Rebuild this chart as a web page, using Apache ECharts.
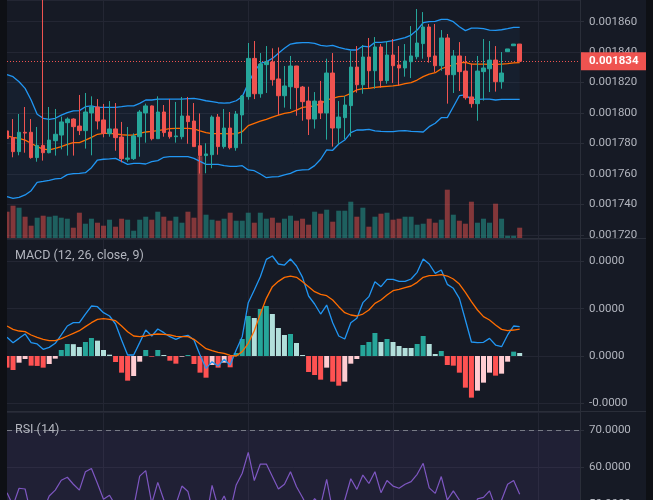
<!DOCTYPE html>
<html><head><meta charset="utf-8">
<script src="https://cdn.jsdelivr.net/npm/echarts@6/dist/echarts.min.js"></script>
<style>html,body{margin:0;padding:0;background:#161a25;}#c{width:653px;height:500px;}</style>
</head><body><div id="c"></div>
<script>
// ---------- data ----------
const categories = Array.from({length: 96}, (_, i) => 'b' + i);
const timeTicks = [16, 40, 64, 88];

const opens = [1788.3e-6,1783.9e-6,1774.7e-6,1787.4e-6,1787.4e-6,1770.8e-6,1778.8e-6,1774.0e-6,1781.9e-6,1785.6e-6,
1793.7e-6,1796.1e-6,1791.5e-6,1788.5e-6,1800.1e-6,1804.0e-6,1795.5e-6,1786.5e-6,1789.6e-6,1784.3e-6,
1769.7e-6,1770.1e-6,1784.5e-6,1800.1e-6,1804.7e-6,1783.2e-6,1800.7e-6,1787.6e-6,1784.5e-6,1784.5e-6,
1798.1e-6,1794.8e-6,1778.6e-6,1772.1e-6,1772.7e-6,1797.4e-6,1778.0e-6,1790.2e-6,1777.3e-6,1798.8e-6,
1810.8e-6,1835.9e-6,1812.7e-6,1831.8e-6,1833.5e-6,1822.4e-6,1811.4e-6,1817.3e-6,1830.9e-6,1817.1e-6,
1807.9e-6,1796.1e-6,1807.9e-6,1800.1e-6,1826.3e-6,1790.2e-6,1797.0e-6,1804.9e-6,1830.2e-6,1818.6e-6,
1836.8e-6,1827.8e-6,1843.4e-6,1821.3e-6,1838.1e-6,1831.6e-6,1829.6e-6,1833.7e-6,1837.0e-6,1845.6e-6,
1856.5e-6,1837.5e-6,1831.1e-6,1849.3e-6,1825.2e-6,1837.5e-6,1827.6e-6,1810.6e-6,1806.2e-6,1827.2e-6,
1829.1e-6,1834.8e-6,1820.6e-6,1840.3e-6,1844.2e-6,1845.3e-6];
const closes = [1783.4e-6,1774.7e-6,1787.4e-6,1786.9e-6,1770.8e-6,1778.8e-6,1774.0e-6,1782.3e-6,1786.1e-6,1794.2e-6,
1796.1e-6,1791.1e-6,1788.5e-6,1800.7e-6,1804.0e-6,1794.8e-6,1786.7e-6,1789.6e-6,1783.9e-6,1770.1e-6,
1770.5e-6,1785.0e-6,1800.7e-6,1804.7e-6,1783.2e-6,1800.7e-6,1787.2e-6,1784.5e-6,1785.0e-6,1798.1e-6,
1794.4e-6,1778.0e-6,1772.1e-6,1773.2e-6,1797.4e-6,1778.0e-6,1790.2e-6,1777.3e-6,1799.4e-6,1811.2e-6,
1835.9e-6,1812.7e-6,1832.2e-6,1833.5e-6,1821.9e-6,1811.4e-6,1817.8e-6,1830.9e-6,1816.7e-6,1807.5e-6,
1796.1e-6,1807.9e-6,1800.1e-6,1826.3e-6,1790.2e-6,1797.4e-6,1805.3e-6,1830.2e-6,1818.6e-6,1836.8e-6,
1827.8e-6,1843.4e-6,1821.3e-6,1838.1e-6,1831.1e-6,1829.6e-6,1834.2e-6,1837.5e-6,1846.0e-6,1856.5e-6,
1837.0e-6,1831.1e-6,1849.3e-6,1825.2e-6,1837.5e-6,1827.2e-6,1810.1e-6,1806.2e-6,1827.6e-6,1829.6e-6,
1834.8e-6,1820.6e-6,1826.3e-6,1842.1e-6,1845.3e-6,1834.0e-6];
const lows = [1768.1e-6,1771.0e-6,1772.3e-6,1774.0e-6,1770.1e-6,1768.1e-6,1768.8e-6,1773.6e-6,1772.1e-6,1776.2e-6,
1772.1e-6,1772.1e-6,1785.6e-6,1776.7e-6,1772.3e-6,1789.3e-6,1784.1e-6,1784.5e-6,1775.3e-6,1767.7e-6,
1768.1e-6,1769.2e-6,1771.4e-6,1780.6e-6,1782.1e-6,1783.0e-6,1784.5e-6,1783.2e-6,1780.6e-6,1782.8e-6,
1779.9e-6,1777.8e-6,1760.3e-6,1760.5e-6,1763.8e-6,1772.7e-6,1776.7e-6,1776.2e-6,1775.3e-6,1779.9e-6,
1808.8e-6,1809.2e-6,1810.1e-6,1813.2e-6,1818.0e-6,1798.8e-6,1803.6e-6,1802.7e-6,1798.3e-6,1795.0e-6,
1785.6e-6,1789.8e-6,1796.1e-6,1782.6e-6,1778.0e-6,1779.3e-6,1783.0e-6,1784.5e-6,1813.4e-6,1812.7e-6,
1816.5e-6,1816.0e-6,1816.7e-6,1819.3e-6,1819.7e-6,1818.0e-6,1823.9e-6,1823.0e-6,1835.3e-6,1835.7e-6,
1833.1e-6,1827.0e-6,1827.8e-6,1806.2e-6,1813.2e-6,1814.5e-6,1808.8e-6,1803.6e-6,1795.0e-6,1808.2e-6,
1813.8e-6,1814.1e-6,1816.0e-6,1840.3e-6,1844.2e-6,1834.0e-6];
const highs = [1795.5e-6,1796.1e-6,1799.4e-6,1804.0e-6,1796.1e-6,1790.9e-6,1880.0e-6,1804.0e-6,1802.7e-6,1797.7e-6,
1797.2e-6,1796.6e-6,1811.9e-6,1813.2e-6,1811.0e-6,1809.2e-6,1806.0e-6,1807.9e-6,1806.6e-6,1794.2e-6,
1790.9e-6,1786.7e-6,1802.0e-6,1806.2e-6,1805.0e-6,1811.0e-6,1805.3e-6,1809.2e-6,1807.3e-6,1810.6e-6,
1810.6e-6,1806.6e-6,1799.8e-6,1780.2e-6,1798.5e-6,1799.4e-6,1802.7e-6,1800.7e-6,1801.4e-6,1811.9e-6,
1846.0e-6,1847.3e-6,1839.4e-6,1844.0e-6,1842.5e-6,1843.1e-6,1830.9e-6,1837.5e-6,1831.0e-6,1817.8e-6,
1817.3e-6,1813.8e-6,1821.1e-6,1835.7e-6,1839.4e-6,1807.9e-6,1811.2e-6,1840.7e-6,1844.0e-6,1844.7e-6,
1849.3e-6,1849.9e-6,1845.3e-6,1847.3e-6,1848.6e-6,1844.0e-6,1845.3e-6,1857.1e-6,1868.3e-6,1866.3e-6,
1858.5e-6,1858.5e-6,1854.5e-6,1851.9e-6,1841.4e-6,1846.6e-6,1837.5e-6,1832.4e-6,1837.5e-6,1848.6e-6,
1847.3e-6,1844.0e-6,1840.1e-6,1842.1e-6,1845.3e-6,1845.3e-6];
const volumes = [263,323,303,213,123,203,223,213,223,203,193,103,253,143,193,153,123,183,113,193,
183,73,183,213,183,263,213,173,213,153,263,203,817,233,183,173,193,253,173,173,
253,153,253,193,203,153,193,223,173,193,133,263,243,283,163,273,273,363,213,303,
113,213,243,253,183,193,213,213,133,143,193,153,183,483,233,173,143,363,153,193,
153,343,193,23,23,103];
const bbUpper = [1825.2e-6,1823.9e-6,1820.6e-6,1816.2e-6,1808.6e-6,1799.2e-6,1796.6e-6,1795.9e-6,1796.6e-6,1798.7e-6,
1800.3e-6,1801.4e-6,1801.6e-6,1804.2e-6,1804.7e-6,1803.8e-6,1803.8e-6,1803.8e-6,1803.8e-6,1804.2e-6,
1804.7e-6,1804.7e-6,1806.4e-6,1808.6e-6,1808.6e-6,1809.2e-6,1809.2e-6,1809.2e-6,1809.2e-6,1809.2e-6,
1809.5e-6,1809.7e-6,1809.0e-6,1808.1e-6,1807.5e-6,1806.8e-6,1806.6e-6,1806.8e-6,1808.1e-6,1810.8e-6,
1819.5e-6,1827.2e-6,1832.6e-6,1833.7e-6,1835.9e-6,1839.2e-6,1842.5e-6,1845.3e-6,1846.0e-6,1846.2e-6,
1846.2e-6,1845.8e-6,1844.5e-6,1844.0e-6,1844.5e-6,1843.1e-6,1842.1e-6,1841.4e-6,1841.4e-6,1844.0e-6,
1843.4e-6,1846.4e-6,1846.4e-6,1846.9e-6,1847.5e-6,1848.6e-6,1849.5e-6,1851.2e-6,1854.5e-6,1859.3e-6,
1860.0e-6,1860.2e-6,1861.5e-6,1861.5e-6,1860.0e-6,1856.7e-6,1854.1e-6,1855.8e-6,1855.8e-6,1855.4e-6,
1854.5e-6,1854.3e-6,1854.7e-6,1855.4e-6,1856.3e-6,1856.3e-6];
const bbBasis = [1785.0e-6,1784.1e-6,1783.4e-6,1782.3e-6,1780.2e-6,1778.0e-6,1776.4e-6,1775.8e-6,1776.9e-6,1778.0e-6,
1779.5e-6,1780.6e-6,1780.6e-6,1782.3e-6,1784.1e-6,1786.1e-6,1786.7e-6,1786.7e-6,1786.3e-6,1785.8e-6,
1785.6e-6,1785.6e-6,1786.7e-6,1787.6e-6,1788.0e-6,1788.5e-6,1789.1e-6,1789.8e-6,1790.0e-6,1790.0e-6,
1790.0e-6,1789.6e-6,1788.3e-6,1787.2e-6,1786.5e-6,1786.5e-6,1786.5e-6,1786.3e-6,1786.3e-6,1787.8e-6,
1791.8e-6,1793.3e-6,1794.8e-6,1795.9e-6,1797.4e-6,1798.7e-6,1799.8e-6,1800.5e-6,1802.0e-6,1803.8e-6,
1804.2e-6,1804.7e-6,1806.2e-6,1808.6e-6,1809.7e-6,1810.8e-6,1811.2e-6,1813.0e-6,1815.2e-6,1816.0e-6,
1816.2e-6,1816.9e-6,1817.3e-6,1817.6e-6,1817.8e-6,1818.4e-6,1819.3e-6,1820.0e-6,1821.7e-6,1823.9e-6,
1825.6e-6,1826.5e-6,1829.1e-6,1830.5e-6,1831.6e-6,1833.1e-6,1833.3e-6,1832.2e-6,1832.2e-6,1832.2e-6,
1832.0e-6,1832.0e-6,1832.2e-6,1832.4e-6,1832.9e-6,1833.1e-6];
const bbLower = [1745.2e-6,1744.1e-6,1744.7e-6,1746.3e-6,1749.1e-6,1754.6e-6,1755.2e-6,1755.9e-6,1756.8e-6,1757.2e-6,
1759.6e-6,1760.3e-6,1760.5e-6,1760.9e-6,1764.2e-6,1769.2e-6,1769.7e-6,1769.9e-6,1770.3e-6,1768.3e-6,
1766.4e-6,1767.0e-6,1767.0e-6,1766.6e-6,1768.1e-6,1768.8e-6,1771.0e-6,1771.4e-6,1771.4e-6,1771.4e-6,
1771.4e-6,1770.3e-6,1768.3e-6,1766.4e-6,1766.4e-6,1766.4e-6,1765.5e-6,1765.1e-6,1765.1e-6,1765.5e-6,
1762.7e-6,1762.2e-6,1760.0e-6,1757.6e-6,1758.1e-6,1758.3e-6,1759.4e-6,1760.5e-6,1762.2e-6,1762.7e-6,
1762.9e-6,1765.5e-6,1769.7e-6,1775.8e-6,1775.6e-6,1779.7e-6,1782.3e-6,1787.2e-6,1788.9e-6,1788.9e-6,
1789.3e-6,1788.3e-6,1788.0e-6,1787.8e-6,1787.8e-6,1788.3e-6,1788.5e-6,1788.0e-6,1787.8e-6,1787.6e-6,
1791.1e-6,1793.3e-6,1797.0e-6,1797.0e-6,1804.2e-6,1811.4e-6,1811.9e-6,1809.0e-6,1809.0e-6,1809.2e-6,
1809.2e-6,1808.6e-6,1809.0e-6,1809.0e-6,1809.0e-6,1809.0e-6];
const macdLine = [3.94e-6,2.82e-6,3.73e-6,4.65e-6,2.82e-6,2.54e-6,1.41e-6,1.83e-6,2.68e-6,4.44e-6,
6.34e-6,7.04e-6,7.04e-6,8.87e-6,10.56e-6,10.42e-6,9.15e-6,8.45e-6,6.76e-6,3.38e-6,
0.21e-6,0.21e-6,2.82e-6,5.49e-6,4.23e-6,5.70e-6,4.93e-6,4.08e-6,3.52e-6,4.08e-6,
4.37e-6,3.38e-6,0.21e-6,-2.61e-6,-1.20e-6,-2.11e-6,-0.70e-6,-1.90e-6,1.27e-6,4.08e-6,
11.27e-6,13.94e-6,16.76e-6,20.42e-6,21.13e-6,19.44e-6,19.22e-6,20.49e-6,19.01e-6,16.62e-6,
12.68e-6,10.99e-6,8.87e-6,10.77e-6,7.04e-6,4.23e-6,3.59e-6,7.04e-6,7.96e-6,11.27e-6,
12.54e-6,15.70e-6,14.65e-6,16.20e-6,16.20e-6,15.77e-6,15.77e-6,16.27e-6,17.68e-6,20.49e-6,
19.44e-6,17.46e-6,18.17e-6,15.14e-6,14.30e-6,12.18e-6,7.61e-6,2.96e-6,2.82e-6,2.89e-6,
3.73e-6,2.32e-6,1.97e-6,4.44e-6,6.34e-6,6.20e-6];
const signalLine = [6.34e-6,5.63e-6,5.28e-6,5.14e-6,4.44e-6,3.94e-6,3.52e-6,3.24e-6,3.24e-6,3.66e-6,
4.23e-6,4.79e-6,5.35e-6,6.20e-6,7.04e-6,7.75e-6,7.89e-6,7.75e-6,7.46e-6,6.34e-6,
5.14e-6,4.23e-6,4.08e-6,4.23e-6,4.51e-6,4.65e-6,4.58e-6,4.44e-6,4.15e-6,4.08e-6,
4.08e-6,3.52e-6,2.54e-6,1.55e-6,1.13e-6,0.77e-6,0.56e-6,0.14e-6,0.00e-6,0.92e-6,
2.68e-6,5.35e-6,8.87e-6,12.18e-6,14.65e-6,15.77e-6,16.62e-6,16.90e-6,16.62e-6,15.70e-6,
14.65e-6,13.59e-6,13.03e-6,12.75e-6,11.83e-6,10.42e-6,9.15e-6,8.66e-6,8.45e-6,8.87e-6,
9.72e-6,11.13e-6,11.83e-6,12.89e-6,13.80e-6,14.08e-6,14.44e-6,14.79e-6,15.56e-6,16.62e-6,
16.97e-6,17.04e-6,17.18e-6,16.90e-6,16.27e-6,15.21e-6,13.45e-6,11.48e-6,9.72e-6,8.31e-6,
7.61e-6,6.55e-6,5.63e-6,5.35e-6,5.49e-6,5.70e-6];
const macdHist = [-2.46e-6,-2.96e-6,-1.41e-6,-0.63e-6,-2.04e-6,-2.10e-6,-2.46e-6,-1.69e-6,-0.56e-6,1.27e-6,
2.54e-6,2.50e-6,1.90e-6,2.96e-6,3.80e-6,3.24e-6,1.27e-6,0.28e-6,-1.27e-6,-3.52e-6,
-5.21e-6,-4.23e-6,-1.20e-6,1.27e-6,-0.14e-6,1.27e-6,0.21e-6,-0.99e-6,-1.62e-6,-0.14e-6,
0.21e-6,-1.69e-6,-3.52e-6,-4.58e-6,-1.90e-6,-2.46e-6,-1.41e-6,-2.39e-6,0.63e-6,3.59e-6,
8.45e-6,8.03e-6,9.93e-6,10.56e-6,8.87e-6,5.92e-6,4.44e-6,4.65e-6,2.75e-6,0.21e-6,
-3.38e-6,-4.01e-6,-5.00e-6,-2.46e-6,-5.42e-6,-6.27e-6,-5.42e-6,-1.62e-6,-0.63e-6,2.32e-6,
2.96e-6,4.86e-6,2.96e-6,3.59e-6,2.96e-6,2.11e-6,1.69e-6,1.69e-6,2.54e-6,4.23e-6,
2.54e-6,0.42e-6,1.06e-6,-1.90e-6,-2.04e-6,-3.52e-6,-6.69e-6,-8.80e-6,-7.32e-6,-5.63e-6,
-3.52e-6,-4.15e-6,-3.73e-6,-1.20e-6,0.92e-6,0.63e-6];
const rsi = [53.0,49.5,54.2,54.0,47.0,49.0,48.0,52.1,53.7,56.4,
57.2,55.3,53.7,58.7,59.6,55.5,51.2,52.3,49.5,44.0,
44.5,49.0,57.5,59.0,50.0,55.8,51.0,49.5,49.8,54.8,
53.3,47.0,45.0,45.5,55.0,49.0,52.1,48.0,55.1,58.3,
64.0,56.3,60.8,60.8,57.4,54.0,55.3,58.7,54.6,51.7,
48.5,51.4,49.5,56.6,48.0,49.0,51.0,56.8,53.9,57.8,
55.5,58.7,53.0,56.3,54.8,54.2,55.3,56.0,58.0,61.0,
54.3,52.8,57.4,51.0,53.5,51.0,47.0,46.0,51.3,51.7,
53.5,49.0,51.0,55.3,56.3,52.6];

// axis ranges
const priceMin = 0.00171803, priceMax = 0.00187422;
const volMax = 2380;
const macdMin = -11.62e-6, macdMax = 24.72e-6;
const rsiMin = 0, rsiMax = 75;

// ---------- styles ----------
const UP = '#26a69a', DOWN = '#ef5350';
const gridColor = '#232633';
const labelColor = '#b2b5be';
const FONT = 'Roboto';

const candleData = opens.map((o, i) => [o, closes[i], lows[i], highs[i]]);
const volData = volumes.map((v, i) => ({
  value: v,
  itemStyle: {color: closes[i] >= opens[i] ? 'rgba(38,166,154,0.5)' : 'rgba(239,83,80,0.5)'}
}));
const bandWidthData = bbUpper.map((u, i) => u - bbLower[i]);
const histData = macdHist.map((v, i) => {
  const prev = i > 0 ? macdHist[i - 1] : 0;
  let c;
  if (v >= 0) c = v > prev ? '#26a69a' : '#b2dfdb';
  else c = v < prev ? '#ff5252' : '#ffcdd2';
  return {value: v, itemStyle: {color: c}};
});
const lastClose = closes[closes.length - 1];

const xAx = g => ({
  type: 'category', gridIndex: g, data: categories, boundaryGap: false,
  axisLine: {show: false}, axisTick: {show: false}, axisLabel: {show: false},
  splitLine: {show: true, interval: (i) => timeTicks.includes(i), lineStyle: {color: gridColor, width: 1}}
});
const yLab = (fmt, extra) => Object.assign({
  color: labelColor, fontFamily: FONT, fontSize: 11.5, margin: 9, formatter: fmt
}, extra || {});
const yTick = {show: true, length: 4, lineStyle: {color: '#2a2e39'}};

const gridBase = {left: 7, right: 73, containLabel: false, outerBoundsMode: 'none'};

const chart = echarts.init(document.getElementById('c'), null, {renderer: 'canvas'});
const option = {
  animation: false,
  backgroundColor: '#161a25',
  textStyle: {fontFamily: FONT},
  title: [
    {text: 'MACD (12, 26, close, 9)', left: 15, top: 249, padding: 0,
     textStyle: {color: labelColor, fontSize: 12.5, fontWeight: 'normal', fontFamily: FONT}},
    {text: 'RSI (14)', left: 15, top: 423, padding: 0,
     textStyle: {color: labelColor, fontSize: 12.5, fontWeight: 'normal', fontFamily: FONT}}
  ],
  grid: [
    Object.assign({top: 0, height: 238}, gridBase),
    Object.assign({top: 239, height: 172}, gridBase),
    Object.assign({top: 412, height: 275}, gridBase)
  ],
  xAxis: [xAx(0), xAx(1), xAx(2)],
  yAxis: [
    {type: 'value', gridIndex: 0, position: 'right', min: priceMin, max: priceMax, splitNumber: 8,
     axisLine: {show: false}, axisTick: yTick,
     axisLabel: yLab(v => v.toFixed(6), {showMinLabel: false, showMaxLabel: false}),
     splitLine: {lineStyle: {color: gridColor}}},
    {type: 'value', gridIndex: 0, min: 0, max: volMax, show: false},
    {type: 'value', gridIndex: 1, position: 'right', min: macdMin, max: macdMax, splitNumber: 4,
     axisLine: {show: false}, axisTick: yTick,
     axisLabel: yLab(v => v.toFixed(4), {showMinLabel: false, showMaxLabel: false}),
     splitLine: {lineStyle: {color: gridColor}}},
    {type: 'value', gridIndex: 2, position: 'right', min: rsiMin, max: rsiMax, interval: 10,
     axisLine: {show: false}, axisTick: yTick,
     axisLabel: yLab(v => v.toFixed(4), {showMaxLabel: false}),
     splitLine: {lineStyle: {color: gridColor}}}
  ],
  series: [
    {name: 'Volume', type: 'bar', xAxisIndex: 0, yAxisIndex: 1, data: volData, barWidth: 5, z: 1, silent: true},
    {name: 'bbBase', type: 'line', xAxisIndex: 0, yAxisIndex: 0, stack: 'bb', data: bbLower,
     symbol: 'none', lineStyle: {opacity: 0}, z: 2, silent: true},
    {name: 'bbFill', type: 'line', xAxisIndex: 0, yAxisIndex: 0, stack: 'bb', data: bandWidthData,
     symbol: 'none', lineStyle: {opacity: 0}, areaStyle: {color: 'rgba(33,150,243,0.065)'}, z: 2, silent: true},
    {name: 'Upper', type: 'line', xAxisIndex: 0, yAxisIndex: 0, data: bbUpper, symbol: 'none',
     lineStyle: {color: '#2196f3', width: 1.3}, z: 3, silent: true},
    {name: 'Lower', type: 'line', xAxisIndex: 0, yAxisIndex: 0, data: bbLower, symbol: 'none',
     lineStyle: {color: '#2196f3', width: 1.3}, z: 3, silent: true},
    {name: 'Basis', type: 'line', xAxisIndex: 0, yAxisIndex: 0, data: bbBasis, symbol: 'none',
     lineStyle: {color: '#ff6d00', width: 1.3}, z: 3, silent: true},
    {name: 'Price', type: 'candlestick', xAxisIndex: 0, yAxisIndex: 0, data: candleData, barWidth: 4, z: 5,
     itemStyle: {color: UP, color0: DOWN, borderColor: UP, borderColor0: DOWN, borderWidth: 1},
     markLine: {
       symbol: ['none', 'none'], silent: true, precision: 10, animation: false,
       data: [{yAxis: lastClose}],
       lineStyle: {color: DOWN, type: [1, 2], width: 1},
       label: {show: true, position: 'end', distance: 0, formatter: () => lastClose.toFixed(6),
               color: '#ffffff', backgroundColor: DOWN, padding: [2, 9, 2, 9], fontSize: 11.5,
               lineHeight: 14, fontFamily: FONT, fontWeight: 'bold'}
     }},
    {name: 'Histogram', type: 'bar', xAxisIndex: 1, yAxisIndex: 2, data: histData, barWidth: 5, z: 2, silent: true},
    {name: 'MACD', type: 'line', xAxisIndex: 1, yAxisIndex: 2, data: macdLine, symbol: 'none',
     lineStyle: {color: '#2196f3', width: 1.3}, z: 3, silent: true},
    {name: 'Signal', type: 'line', xAxisIndex: 1, yAxisIndex: 2, data: signalLine, symbol: 'none',
     lineStyle: {color: '#ff6d00', width: 1.3}, z: 3, silent: true},
    {name: 'RSI', type: 'line', xAxisIndex: 2, yAxisIndex: 3, data: rsi, symbol: 'none',
     lineStyle: {color: '#7e57c2', width: 1.2}, z: 3, silent: true,
     markArea: {silent: true, itemStyle: {color: 'rgba(126,87,194,0.1)'}, label: {show: false},
                data: [[{yAxis: 30}, {yAxis: 70}]]},
     markLine: {symbol: ['none', 'none'], silent: true, label: {show: false}, precision: 4,
                lineStyle: {color: '#787b86', type: [5, 4], width: 1},
                data: [{yAxis: 70}, {yAxis: 30}]}}
  ],
  graphic: [
    {type: 'rect', shape: {x: 0, y: 0, width: 7, height: 500}, style: {fill: '#0e1015'}, z: 100, silent: true},
    {type: 'rect', shape: {x: 646, y: 0, width: 7, height: 500}, style: {fill: '#0e1015'}, z: 100, silent: true},
    {type: 'line', shape: {x1: 580.5, y1: 0, x2: 580.5, y2: 500}, style: {stroke: '#2a2e39', lineWidth: 1}, z: 100, silent: true},
    {type: 'line', shape: {x1: 7, y1: 238.5, x2: 646, y2: 238.5}, style: {stroke: '#2a2e39', lineWidth: 1}, z: 100, silent: true},
    {type: 'line', shape: {x1: 7, y1: 411.5, x2: 646, y2: 411.5}, style: {stroke: '#2a2e39', lineWidth: 1}, z: 100, silent: true}
  ]
};
chart.setOption(option);
</script>
</body></html>
